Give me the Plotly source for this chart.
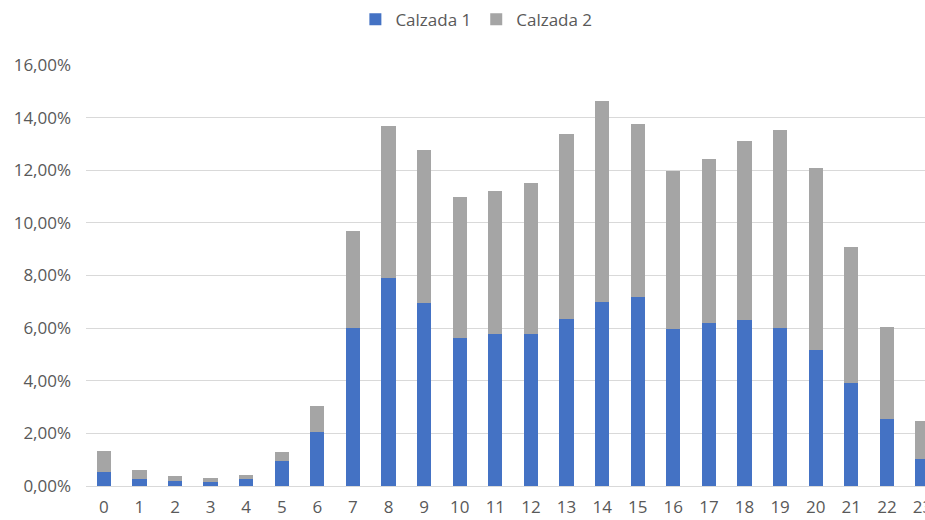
import plotly.graph_objects as go

# Hour of day
horas = [str(h) for h in range(24)]

# Share of daily traffic per carriageway (fractions)
calzada_1 = [0.0054, 0.0025, 0.0019, 0.0014, 0.0025, 0.0095, 0.0205, 0.0600,
             0.0791, 0.0694, 0.0563, 0.0578, 0.0578, 0.0635, 0.0701, 0.0718,
             0.0596, 0.0620, 0.0631, 0.0600, 0.0515, 0.0393, 0.0255, 0.0103]
calzada_2 = [0.0078, 0.0037, 0.0018, 0.0015, 0.0016, 0.0033, 0.0098, 0.0371,
             0.0576, 0.0582, 0.0534, 0.0544, 0.0572, 0.0704, 0.0763, 0.0658,
             0.0600, 0.0621, 0.0682, 0.0754, 0.0693, 0.0516, 0.0348, 0.0145]

y_ticks = [0, 0.02, 0.04, 0.06, 0.08, 0.10, 0.12, 0.14, 0.16]

TEXT = "#595959"
FONT = "Open Sans"

fig = go.Figure()
fig.add_trace(go.Bar(x=horas, y=calzada_1, name="Calzada 1",
                     marker=dict(color="#4472C4", line=dict(width=0))))
fig.add_trace(go.Bar(x=horas, y=calzada_2, name="Calzada 2",
                     marker=dict(color="#A5A5A5", line=dict(width=0))))

fig.update_layout(
    width=925, height=520,
    barmode="stack", bargap=0.6,
    separators=",.",
    plot_bgcolor="white", paper_bgcolor="white",
    margin=dict(l=86, r=0, t=65, b=34, autoexpand=False),
    font=dict(family=FONT, size=17, color=TEXT),
    showlegend=True,
    legend=dict(orientation="h", xref="container", yref="container",
                x=0.515, xanchor="center", y=0.962, yanchor="middle",
                font=dict(family=FONT, size=17, color=TEXT),
                traceorder="normal", itemwidth=30),
    xaxis=dict(type="category", range=[-0.5, 23.07], showgrid=False,
               automargin=False,
               showline=True, linecolor="#D9D9D9", linewidth=1,
               ticks="", tickfont=dict(size=17, color=TEXT),
               ticklabelstandoff=6),
    yaxis=dict(range=[0, 0.16], tickvals=y_ticks, tickformat=".2%",
               automargin=False,
               showgrid=True, gridcolor="#D9D9D9", gridwidth=1,
               zeroline=False, showline=False, ticks="",
               tickfont=dict(size=17, color=TEXT), ticklabelstandoff=14),
)

fig.write_html("out.html")
